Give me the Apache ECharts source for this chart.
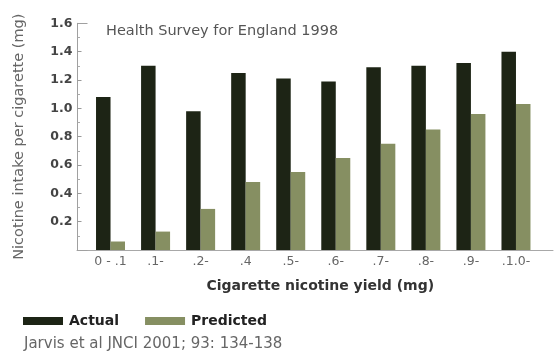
<!DOCTYPE html>
<html>
<head>
<meta charset="utf-8">
<script src="https://cdn.jsdelivr.net/npm/echarts@6/dist/echarts.min.js"></script>
<style>
  html, body { margin: 0; padding: 0; background: #fff; }
  #chart { width: 554px; height: 352px; }
</style>
</head>
<body>
<div id="chart"></div>
<script>
// Nicotine yield bands (mg) and nicotine intake per cigarette (mg)
const yieldBands = ['0 - .1', '.1-', '.2-', '.4', '.5-', '.6-', '.7-', '.8-', '.9-', '.1.0-'];
const actualIntake = [1.08, 1.30, 0.98, 1.25, 1.21, 1.19, 1.29, 1.30, 1.32, 1.40];
const predictedIntake = [0.06, 0.13, 0.29, 0.48, 0.55, 0.65, 0.75, 0.85, 0.96, 1.03];
const intakeMin = 0;
const intakeMax = 1.6;
const intakeStep = 0.2;

const FONT = 'DejaVu Sans';
const chart = echarts.init(document.getElementById('chart'), null, { renderer: 'canvas' });

chart.setOption({
  animation: false,
  textStyle: { fontFamily: FONT },
  title: [
    {
      text: 'Health Survey for England 1998',
      left: 101, top: 19,
      textStyle: { fontFamily: FONT, fontSize: 14.5, fontWeight: 'normal', color: '#555' }
    },
    {
      text: 'Jarvis et al JNCI 2001; 93: 134-138',
      left: 19, top: 332,
      textStyle: { fontFamily: FONT, fontSize: 15, fontWeight: 'normal', color: '#666' }
    }
  ],
  legend: {
    left: 18, top: 309,
    itemWidth: 40, itemHeight: 8, itemGap: 26,
    icon: 'rect',
    textStyle: { fontFamily: FONT, fontSize: 14, fontWeight: 'bold', color: '#222', padding: [0, 0, 0, 1] },
    data: ['Actual', 'Predicted']
  },
  grid: [
    { left: 88, right: 15.5, top: 23.3, bottom: 102 },
    { left: 77, right: 1, top: 23.3, bottom: 102 }
  ],
  xAxis: [
    {
      type: 'category', gridIndex: 0, data: yieldBands,
      axisLine: { show: false }, axisTick: { show: false },
      axisLabel: { fontFamily: FONT, fontSize: 12.5, color: '#666', margin: 5 },
      name: 'Cigarette nicotine yield (mg)',
      nameLocation: 'middle', nameGap: 29,
      nameTextStyle: { fontFamily: FONT, fontSize: 14, fontWeight: 'bold', color: '#333', padding: [0, 0, 0, 14] }
    },
    {
      type: 'value', gridIndex: 1, min: 0, max: 1,
      axisLine: { show: true, lineStyle: { color: '#a8a8a8', width: 1 } },
      axisTick: { show: false }, axisLabel: { show: false }, splitLine: { show: false }
    }
  ],
  yAxis: [
    {
      type: 'value', gridIndex: 0, position: 'left',
      min: intakeMin, max: intakeMax, interval: intakeStep, offset: 10.5,
      axisLine: { show: true, lineStyle: { color: '#a0a0a0', width: 1 } },
      axisTick: { show: true, inside: true, length: 4, lineStyle: { color: '#999' } },
      minorTick: { show: true, splitNumber: 2, length: 2.5, lineStyle: { color: '#aaa' } },
      splitLine: { show: false },
      axisLabel: {
        fontFamily: FONT, fontSize: 12.5, fontWeight: 'bold', color: '#444', margin: 5,
        formatter: v => (v === 0 ? '' : v.toFixed(1))
      },
      name: 'Nicotine intake per cigarette (mg)',
      nameLocation: 'middle', nameRotate: 90, nameGap: 51,
      nameTextStyle: { fontFamily: FONT, fontSize: 14.5, color: '#666' }
    },
    {
      // cap at the top of the value axis
      type: 'value', gridIndex: 0, position: 'left',
      min: intakeMin, max: intakeMax, interval: intakeMax, offset: 10.5,
      axisLine: { show: false },
      axisTick: { show: true, inside: true, length: 10, lineStyle: { color: '#a0a0a0' } },
      axisLabel: { show: false }, splitLine: { show: false }
    },
    {
      type: 'value', gridIndex: 1, min: 0, max: 1, show: false
    }
  ],
  series: [
    {
      name: 'Actual', type: 'bar', xAxisIndex: 0, yAxisIndex: 0,
      data: actualIntake, barWidth: 14.5, barGap: '0%',
      itemStyle: { color: '#1d2415' }
    },
    {
      name: 'Predicted', type: 'bar', xAxisIndex: 0, yAxisIndex: 0,
      data: predictedIntake, barWidth: 14.5, barGap: '0%',
      itemStyle: { color: '#868f62' }
    }
  ]
});
</script>
</body>
</html>
